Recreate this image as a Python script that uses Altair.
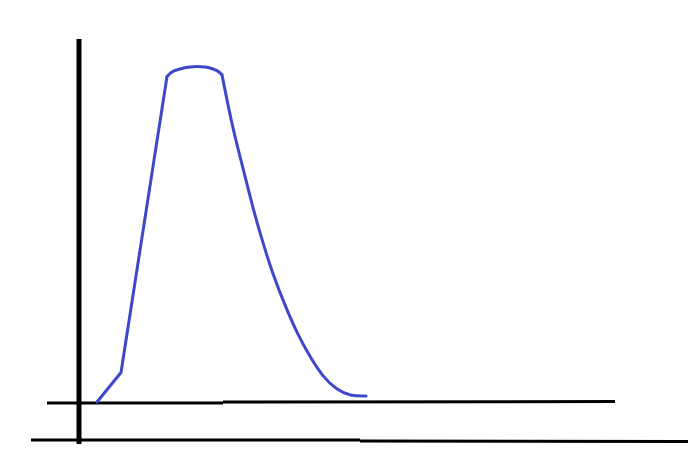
import altair as alt
import pandas as pd

# Sketch units: x to the right, y upward from the bottom of the drawing
rise_x = [89, 113, 159]
rise_y = [42, 71.5, 367.5]

top_x = [159, 164, 172, 182, 189, 197, 205, 211, 214]
top_y = [367.5, 372, 375, 377, 377.5, 377, 375, 372, 369]

fall_x = [214, 219, 224, 230, 238, 246, 255, 264, 278, 289, 302, 315, 329, 342, 358]
fall_y = [369, 344, 320, 295, 264, 232, 201, 172, 136, 111, 87, 67, 54, 48, 48]

# black hand-drawn lines: start x, start y, end x, end y, stroke width
seg_x = [71, 39, 215, 23, 352]
seg_y = [405, 41, 42, 4, 3]
seg_x2 = [71, 215, 607, 352, 684]
seg_y2 = [-4, 41, 42.5, 4, 2.5]
seg_w = [5, 3, 3, 3, 3]

W, H = 680, 436
xs = alt.Scale(domain=[0, W], nice=False, zero=False)
ys = alt.Scale(domain=[0, H], nice=False, zero=False)

segs = pd.DataFrame({"x": seg_x, "y": seg_y, "x2": seg_x2, "y2": seg_y2, "w": seg_w})
rules = alt.Chart(segs).mark_rule(color="black", strokeCap="butt", clip=False).encode(
    x=alt.X("x:Q", scale=xs, axis=None),
    y=alt.Y("y:Q", scale=ys, axis=None),
    x2="x2:Q",
    y2="y2:Q",
    strokeWidth=alt.StrokeWidth("w:Q", scale=None, legend=None),
)

BLUE = "#3f48cc"

def curve(xv, yv, interp):
    df = pd.DataFrame({"x": xv, "y": yv})
    return alt.Chart(df).mark_line(color=BLUE, strokeWidth=3, interpolate=interp, strokeCap="round", strokeJoin="round").encode(
        x=alt.X("x:Q", scale=xs, axis=None),
        y=alt.Y("y:Q", scale=ys, axis=None),
        order="x:Q",
    )

chart = alt.layer(
    rules,
    curve(rise_x, rise_y, "linear"),
    curve(top_x, top_y, "monotone"),
    curve(fall_x, fall_y, "basis"),
).properties(
    width=W, height=H, padding=0, background="white",
    autosize=alt.AutoSizeParams(type="none")
).configure_view(stroke=None)

chart.save("out.html", embed_options={"renderer": "svg", "actions": False})
